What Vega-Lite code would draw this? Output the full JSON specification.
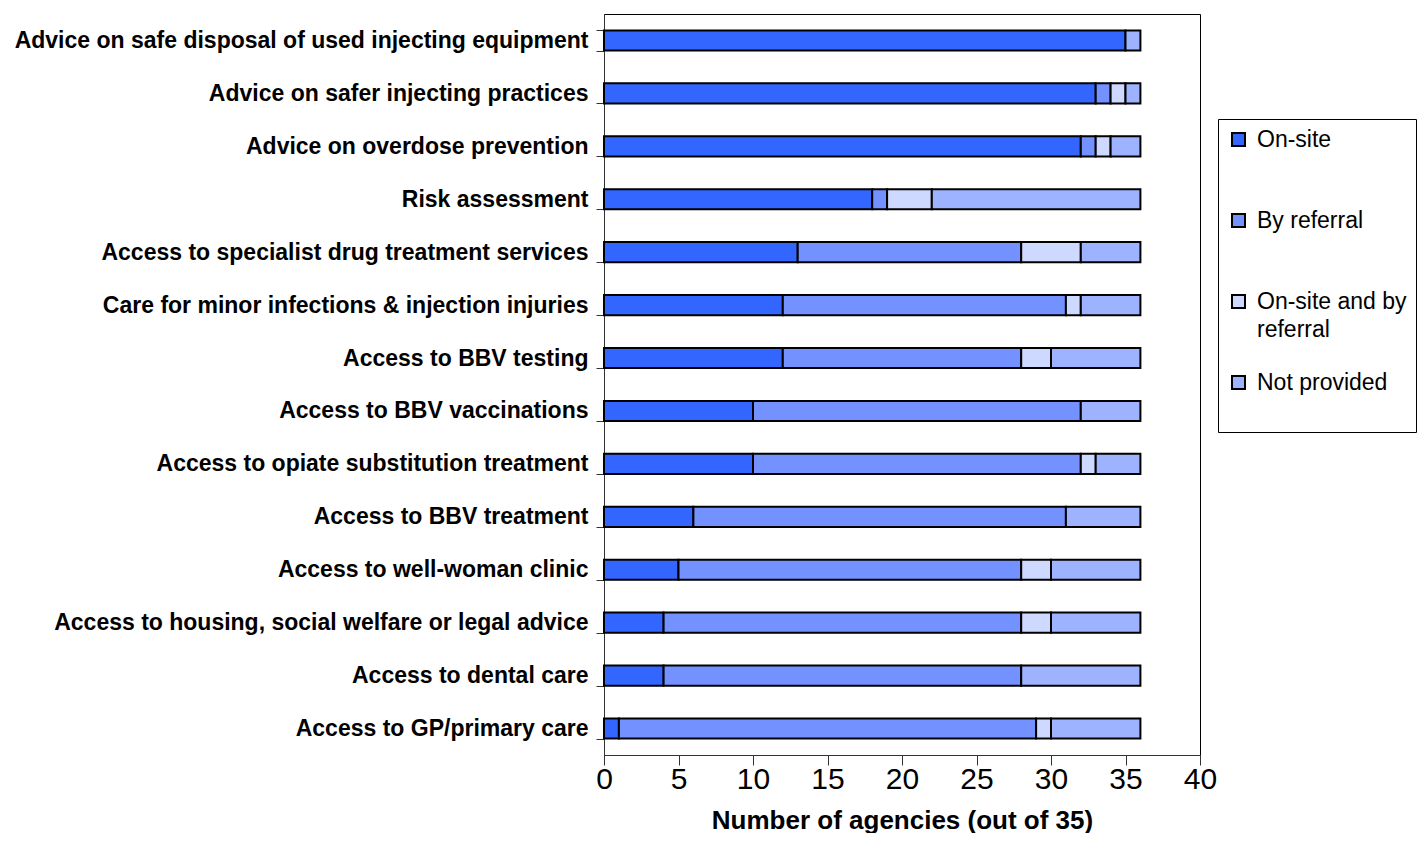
{
  "$schema": "https://vega.github.io/schema/vega-lite/v6.json",
  "width": 596,
  "height": 741,
  "padding": {"top": 3, "left": 14, "right": 0, "bottom": 0},
  "background": "white",
  "config": {
    "view": {"stroke": "black", "strokeWidth": 1},
    "font": "Liberation Sans"
  },
  "data": {
    "values": [
      {"service": "Advice on safe disposal of used injecting equipment", "kind": "On-site", "n": 35},
      {"service": "Advice on safe disposal of used injecting equipment", "kind": "Not provided", "n": 1},
      {"service": "Advice on safer injecting practices", "kind": "On-site", "n": 33},
      {"service": "Advice on safer injecting practices", "kind": "By referral", "n": 1},
      {"service": "Advice on safer injecting practices", "kind": "On-site and by referral", "n": 1},
      {"service": "Advice on safer injecting practices", "kind": "Not provided", "n": 1},
      {"service": "Advice on overdose prevention", "kind": "On-site", "n": 32},
      {"service": "Advice on overdose prevention", "kind": "By referral", "n": 1},
      {"service": "Advice on overdose prevention", "kind": "On-site and by referral", "n": 1},
      {"service": "Advice on overdose prevention", "kind": "Not provided", "n": 2},
      {"service": "Risk assessment", "kind": "On-site", "n": 18},
      {"service": "Risk assessment", "kind": "By referral", "n": 1},
      {"service": "Risk assessment", "kind": "On-site and by referral", "n": 3},
      {"service": "Risk assessment", "kind": "Not provided", "n": 14},
      {"service": "Access to specialist drug treatment services", "kind": "On-site", "n": 13},
      {"service": "Access to specialist drug treatment services", "kind": "By referral", "n": 15},
      {"service": "Access to specialist drug treatment services", "kind": "On-site and by referral", "n": 4},
      {"service": "Access to specialist drug treatment services", "kind": "Not provided", "n": 4},
      {"service": "Care for minor infections & injection injuries", "kind": "On-site", "n": 12},
      {"service": "Care for minor infections & injection injuries", "kind": "By referral", "n": 19},
      {"service": "Care for minor infections & injection injuries", "kind": "On-site and by referral", "n": 1},
      {"service": "Care for minor infections & injection injuries", "kind": "Not provided", "n": 4},
      {"service": "Access to BBV testing", "kind": "On-site", "n": 12},
      {"service": "Access to BBV testing", "kind": "By referral", "n": 16},
      {"service": "Access to BBV testing", "kind": "On-site and by referral", "n": 2},
      {"service": "Access to BBV testing", "kind": "Not provided", "n": 6},
      {"service": "Access to BBV vaccinations", "kind": "On-site", "n": 10},
      {"service": "Access to BBV vaccinations", "kind": "By referral", "n": 22},
      {"service": "Access to BBV vaccinations", "kind": "Not provided", "n": 4},
      {"service": "Access to opiate substitution treatment", "kind": "On-site", "n": 10},
      {"service": "Access to opiate substitution treatment", "kind": "By referral", "n": 22},
      {"service": "Access to opiate substitution treatment", "kind": "On-site and by referral", "n": 1},
      {"service": "Access to opiate substitution treatment", "kind": "Not provided", "n": 3},
      {"service": "Access to BBV treatment", "kind": "On-site", "n": 6},
      {"service": "Access to BBV treatment", "kind": "By referral", "n": 25},
      {"service": "Access to BBV treatment", "kind": "Not provided", "n": 5},
      {"service": "Access to well-woman clinic", "kind": "On-site", "n": 5},
      {"service": "Access to well-woman clinic", "kind": "By referral", "n": 23},
      {"service": "Access to well-woman clinic", "kind": "On-site and by referral", "n": 2},
      {"service": "Access to well-woman clinic", "kind": "Not provided", "n": 6},
      {"service": "Access to housing, social welfare or legal advice", "kind": "On-site", "n": 4},
      {"service": "Access to housing, social welfare or legal advice", "kind": "By referral", "n": 24},
      {"service": "Access to housing, social welfare or legal advice", "kind": "On-site and by referral", "n": 2},
      {"service": "Access to housing, social welfare or legal advice", "kind": "Not provided", "n": 6},
      {"service": "Access to dental care", "kind": "On-site", "n": 4},
      {"service": "Access to dental care", "kind": "By referral", "n": 24},
      {"service": "Access to dental care", "kind": "Not provided", "n": 8},
      {"service": "Access to GP/primary care", "kind": "On-site", "n": 1},
      {"service": "Access to GP/primary care", "kind": "By referral", "n": 28},
      {"service": "Access to GP/primary care", "kind": "On-site and by referral", "n": 1},
      {"service": "Access to GP/primary care", "kind": "Not provided", "n": 6}
    ]
  },
  "transform": [
    {"calculate": "indexof(['On-site','By referral','On-site and by referral','Not provided'], datum.kind)", "as": "stage"}
  ],
  "mark": {"type": "bar", "stroke": "black", "strokeWidth": 2},
  "encoding": {
    "y": {
      "field": "service",
      "type": "nominal",
      "sort": null,
      "scale": {"paddingInner": 0.62, "paddingOuter": 0.31},
      "axis": {
        "title": null,
        "labelFont": "Liberation Sans",
        "labelFontWeight": "bold",
        "labelFontSize": 23,
        "labelColor": "black",
        "labelPadding": 8,
        "labelLimit": 700,
        "tickBand": "extent",
        "tickSize": 8,
        "tickColor": "#333333",
        "domainColor": "#333333"
      }
    },
    "x": {
      "field": "n",
      "type": "quantitative",
      "stack": "zero",
      "scale": {"domain": [0, 40]},
      "axis": {
        "title": "Number of agencies (out of 35)",
        "titleFont": "Liberation Sans",
        "titleFontSize": 26,
        "titleFontWeight": "bold",
        "titleColor": "black",
        "titlePadding": 13,
        "values": [0, 5, 10, 15, 20, 25, 30, 35, 40],
        "labelFont": "Liberation Sans",
        "labelFontSize": 30,
        "labelColor": "black",
        "labelPadding": -1,
        "labelFlush": false,
        "tickSize": 10,
        "tickColor": "#333333",
        "domainColor": "#333333",
        "grid": false
      }
    },
    "color": {
      "field": "kind",
      "type": "nominal",
      "scale": {
        "domain": ["On-site", "By referral", "On-site and by referral", "Not provided"],
        "range": ["#3366FF", "#7391FF", "#CDD9FF", "#9DB3FF"]
      },
      "legend": {
        "title": null,
        "orient": "none",
        "legendX": 614,
        "legendY": 105,
        "fillColor": "white",
        "strokeColor": "black",
        "padding": 9,
        "gridAlign": "all",
        "symbolType": "square",
        "symbolSize": 169,
        "symbolStrokeColor": "black",
        "symbolStrokeWidth": 2,
        "labelFont": "Liberation Sans",
        "labelFontSize": 23,
        "labelColor": "black",
        "labelOffset": 7,
        "labelLimit": 300,
        "rowPadding": 29,
        "labelExpr": "datum.label == 'On-site and by referral' ? ['On-site and by', 'referral'] : datum.label == 'Not provided' ? ['Not provided', ''] : datum.label",
        "encode": {"labels": {"update": {"lineHeight": {"value": 28}}}}
      }
    },
    "order": {"field": "stage", "type": "quantitative"}
  }
}
